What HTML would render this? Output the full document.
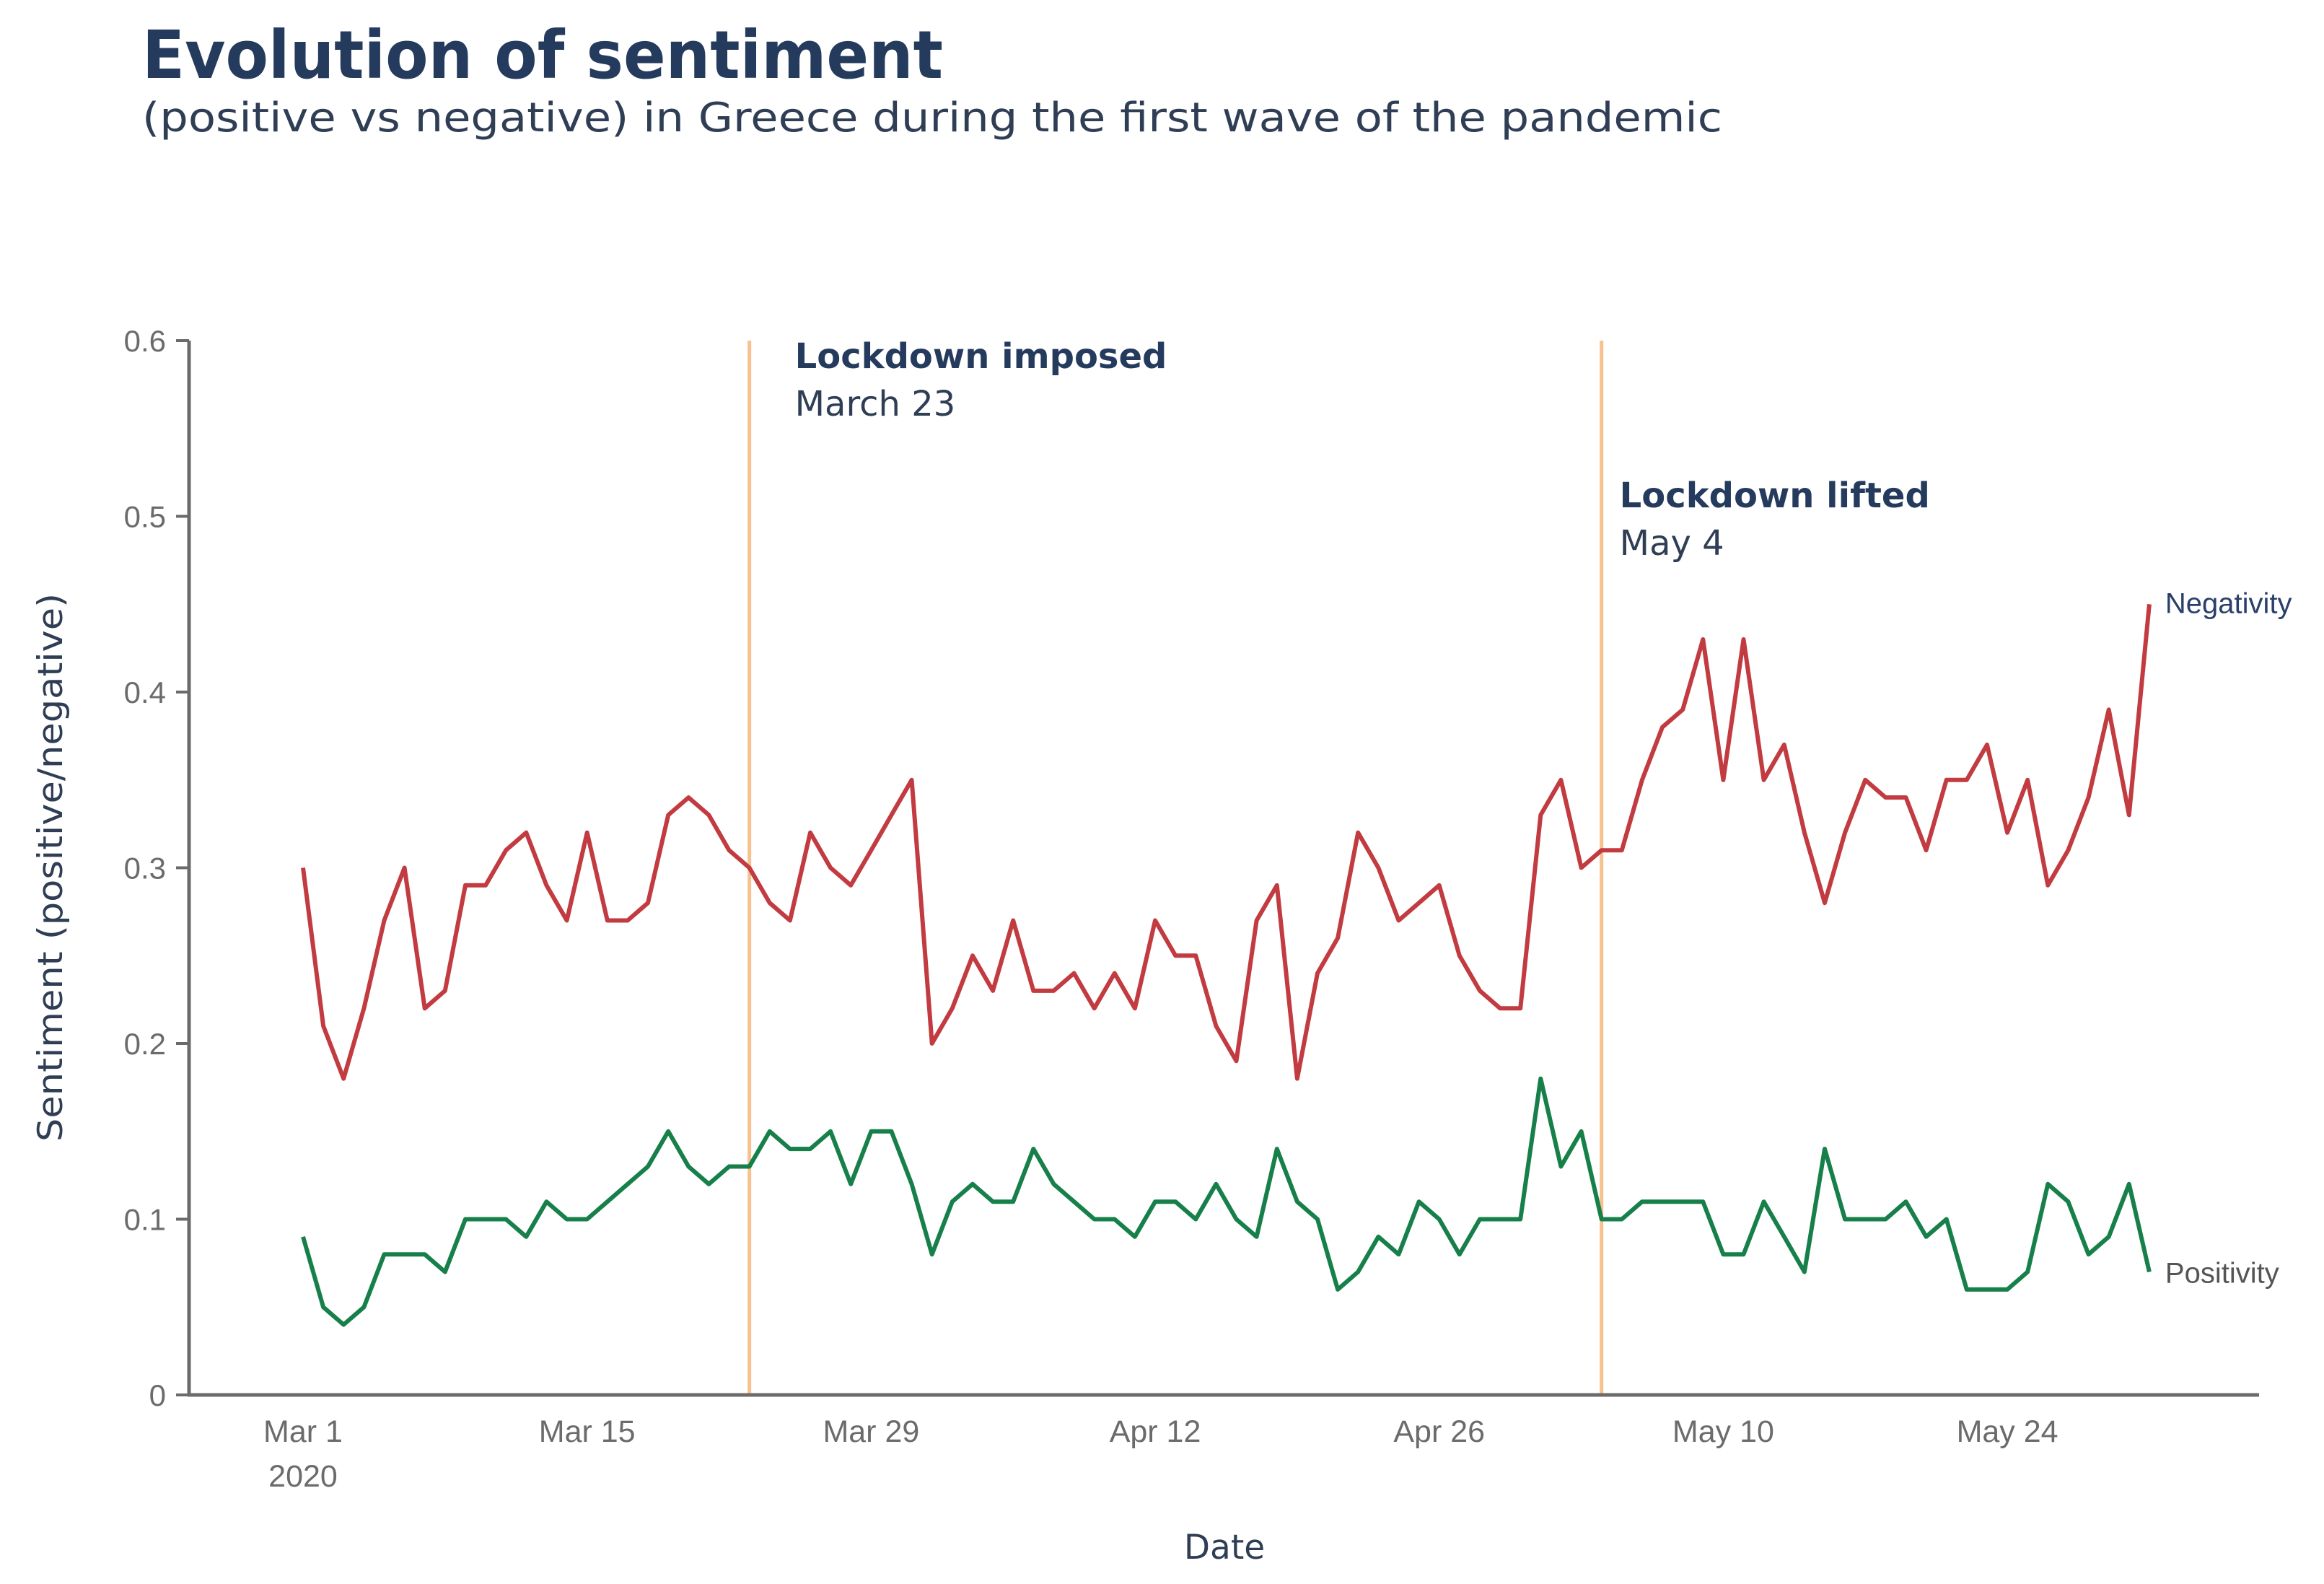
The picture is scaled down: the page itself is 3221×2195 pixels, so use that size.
<!DOCTYPE html>
<html><head><meta charset="utf-8"><style>
html,body{margin:0;padding:0;background:#fff;}
svg{display:block;}
</style></head><body>
<svg id="chart" width="3221" height="2195" viewBox="0 0 3221 2195" xmlns="http://www.w3.org/2000/svg">
<rect width="3221" height="2195" fill="#fff"/>
<text x="197" y="108" font-family="'DejaVu Sans',Verdana,sans-serif" font-weight="bold" font-size="92" fill="#253b5e" textLength="1110" lengthAdjust="spacingAndGlyphs">Evolution of sentiment</text>
<text x="197" y="182" font-family="'DejaVu Sans',Verdana,sans-serif" font-size="56" fill="#2f3e55" textLength="2190" lengthAdjust="spacingAndGlyphs">(positive vs negative) in Greece during the first wave of the pandemic</text>
<g id="plot"></g>
</svg>
<script>
const negativity=[0.30,0.21,0.18,0.22,0.27,0.30,0.22,0.23,0.29,0.29,0.31,0.32,0.29,0.27,0.32,0.27,0.27,0.28,0.33,0.34,0.33,0.31,0.30,0.28,0.27,0.32,0.30,0.29,0.31,0.33,0.35,0.20,
0.22,0.25,0.23,0.27,0.23,0.23,0.24,0.22,0.24,0.22,0.27,0.25,0.25,0.21,0.19,0.27,0.29,0.18,0.24,0.26,0.32,0.30,0.27,0.28,0.29,0.25,0.23,0.22,0.22,0.33,0.35,0.30,
0.31,0.31,0.35,0.38,0.39,0.43,0.35,0.43,0.35,0.37,0.32,0.28,0.32,0.35,0.34,0.34,0.31,0.35,0.35,0.37,0.32,0.35,0.29,0.31,0.34,0.39,0.33,0.45];
const positivity=[0.09,0.05,0.04,0.05,0.08,0.08,0.08,0.07,0.10,0.10,0.10,0.09,0.11,0.10,0.10,0.11,0.12,0.13,0.15,0.13,0.12,0.13,0.13,0.15,0.14,0.14,0.15,0.12,0.15,0.15,0.12,0.08,
0.11,0.12,0.11,0.11,0.14,0.12,0.11,0.10,0.10,0.09,0.11,0.11,0.10,0.12,0.10,0.09,0.14,0.11,0.10,0.06,0.07,0.09,0.08,0.11,0.10,0.08,0.10,0.10,0.10,0.18,0.13,0.15,
0.10,0.10,0.11,0.11,0.11,0.11,0.08,0.08,0.11,0.09,0.07,0.14,0.10,0.10,0.10,0.11,0.09,0.10,0.06,0.06,0.06,0.07,0.12,0.11,0.08,0.09,0.12,0.07];
const yTicks=[0,0.1,0.2,0.3,0.4,0.5,0.6];
const xTickDays=[0,14,28,42,56,70,84];
const xTickLabels=["Mar 1","Mar 15","Mar 29","Apr 12","Apr 26","May 10","May 24"];
const eventDays=[22,64];
const eventTitles=["Lockdown imposed","Lockdown lifted"];
const eventSubs=["March 23","May 4"];

const NS="http://www.w3.org/2000/svg";
const g=document.getElementById('plot');
const X0=420, DX=28.12, Y0=1933, YS=2435;
const xs=d=>X0+d*DX, ys=v=>Y0-v*YS;
function mk(tag,attrs,txt){const e=document.createElementNS(NS,tag);for(const k in attrs)e.setAttribute(k,attrs[k]);if(txt!==undefined)e.textContent=txt;g.appendChild(e);return e;}

eventDays.forEach((d,i)=>{
  const l=mk('line',{x1:xs(d),x2:xs(d),y1:ys(0.6),y2:Y0,stroke:'#f6c18e','stroke-width':5});
  
  
});
const ya=mk('line',{x1:262,x2:262,y1:ys(0.6),y2:Y0+2,stroke:'#6b6b6b','stroke-width':5});


const xa=mk('line',{x1:260,x2:3131,y1:Y0,y2:Y0,stroke:'#6b6b6b','stroke-width':5});


yTicks.forEach(v=>{
  const t=mk('line',{x1:244,x2:262,y1:ys(v),y2:ys(v),stroke:'#6b6b6b','stroke-width':4});
  
  
  const lb=mk('text',{x:230,y:ys(v)+15,'text-anchor':'end','font-family':"'Liberation Sans',Arial,sans-serif",'font-size':42,fill:'#6b6b6b'},v===0?'0':v.toFixed(1));
  
  
});
xTickDays.forEach((d,i)=>{
  const lb=mk('text',{x:xs(d),y:1998,'text-anchor':'middle','font-family':"'Liberation Sans',Arial,sans-serif",'font-size':43,fill:'#6b6b6b'},xTickLabels[i]);
  
  
});
const yr=mk('text',{x:xs(0),y:2060,'text-anchor':'middle','font-family':"'Liberation Sans',Arial,sans-serif",'font-size':43,fill:'#6b6b6b'},'2020');


const xt=mk('text',{x:1697,y:2160,'text-anchor':'middle','font-family':"'DejaVu Sans',Verdana,sans-serif",'font-size':47,fill:'#2f3e55'},'Date');


const yt=mk('text',{x:0,y:0,'text-anchor':'middle','font-family':"'DejaVu Sans',Verdana,sans-serif",'font-size':47,fill:'#2f3e55',transform:'translate(86,1202) rotate(-90)',textLength:760,lengthAdjust:'spacingAndGlyphs'},'Sentiment (positive/negative)');



function line(arr,color,name){
  const p=mk('polyline',{points:arr.map((v,i)=>xs(i).toFixed(1)+','+ys(v).toFixed(1)).join(' '),fill:'none',stroke:color,'stroke-width':6,'stroke-linejoin':'round'});
  
  
}
line(negativity,'#c23b40','negativity-line');
line(positivity,'#17804a','positivity-line');

const nl=mk('text',{x:xs(negativity.length-1)+22,y:ys(negativity[negativity.length-1])+12,'font-family':"'Liberation Sans',Arial,sans-serif",'font-size':40,fill:'#2a3f6a'},'Negativity');


const pl=mk('text',{x:xs(positivity.length-1)+22,y:ys(positivity[positivity.length-1])+15,'font-family':"'Liberation Sans',Arial,sans-serif",'font-size':40,fill:'#555'},'Positivity');



const annY=[510,703];
const annDX=[63,25];
eventDays.forEach((d,i)=>{
  const a=mk('text',{x:xs(d)+annDX[i],y:annY[i],'font-family':"'DejaVu Sans',Verdana,sans-serif",'font-weight':'bold','font-size':48,fill:'#253b5e'},eventTitles[i]);
  
  
  const b=mk('text',{x:xs(d)+annDX[i],y:annY[i]+66,'font-family':"'DejaVu Sans',Verdana,sans-serif",'font-size':48,fill:'#2f3e55'},eventSubs[i]);
  
  
});
</script>
</body></html>
